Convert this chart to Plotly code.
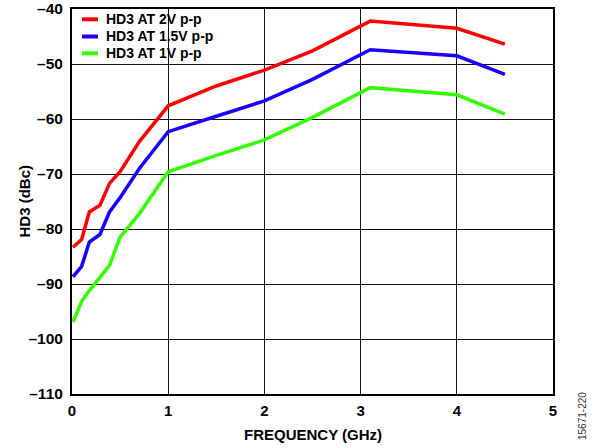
import plotly.graph_objects as go

freq = [0.01, 0.1, 0.18, 0.29, 0.39, 0.5, 0.7, 1.0, 1.5, 2.0, 2.5, 3.1, 4.0, 4.5]
hd3_2v = [-83.3, -81.9, -76.9, -75.7, -71.7, -69.6, -64.1, -57.6, -54.0, -51.1, -47.6, -42.2, -43.5, -46.4]
hd3_15v = [-88.7, -86.8, -82.4, -81.0, -76.9, -74.3, -69.0, -62.3, -59.5, -56.7, -52.8, -47.4, -48.5, -51.9]
hd3_1v = [-96.9, -93.2, -91.2, -88.8, -86.6, -81.5, -77.2, -69.6, -66.6, -63.8, -59.7, -54.3, -55.6, -59.1]

series_names = ["HD3 AT 2V p-p", "HD3 AT 1.5V p-p", "HD3 AT 1V p-p"]
series_colors = ["#ff0000", "#1a00ff", "#33ff00"]

x_ticks = [0, 1, 2, 3, 4, 5]
y_ticks = [-110, -100, -90, -80, -70, -60, -50, -40]
y_tick_labels = ["–110", "–100", "–90", "–80", "–70", "–60", "–50", "–40"]

x_title = "FREQUENCY (GHz)"
y_title = "HD3 (dBc)"
fig_code = "15671-220"

font_family = "Liberation Sans, Arial, sans-serif"

W, H = 595, 448
ML, MT = 72, 9
MR = W - 553
MB = H - 394
PW, PH = W - ML - MR, H - MT - MB


def px_x(p):
    return (p - ML) / PW


def px_y(p):
    return (H - MB - p) / PH


fig = go.Figure()
for name, vals, col in zip(series_names, [hd3_2v, hd3_15v, hd3_1v], series_colors):
    fig.add_trace(go.Scatter(x=freq, y=vals, mode="lines", name=name,
                             line=dict(color=col, width=3.5)))

fig.update_layout(
    width=W, height=H,
    margin=dict(l=ML, r=MR, t=MT, b=MB),
    paper_bgcolor="white", plot_bgcolor="white",
    font=dict(family=font_family, size=15, color="black"),
    showlegend=False,
    xaxis=dict(range=[0, 5], tickvals=x_ticks, showgrid=True, gridcolor="#111111", gridwidth=1.2,
               showline=True, linecolor="black", linewidth=2, mirror=True, zeroline=False,
               ticks="", automargin=False, ticklabelstandoff=2, ticklabeloverflow="allow",
               tickfont=dict(family=font_family, size=15, weight="bold")),
    yaxis=dict(range=[-110, -40], tickvals=y_ticks, ticktext=y_tick_labels, showgrid=True,
               gridcolor="#111111", gridwidth=1.2, showline=True, linecolor="black", linewidth=2,
               mirror=True, zeroline=False, ticks="", automargin=False, ticklabelstandoff=4,
               ticklabeloverflow="allow",
               tickfont=dict(family=font_family, size=15.5, weight="bold")),
)

# white legend box covering the grid (drawn between grid and traces)
fig.add_shape(type="rect", xref="paper", yref="paper", layer="between",
              x0=0, x1=px_x(236), y0=px_y(63.2), y1=1,
              fillcolor="white", line=dict(width=0))

# legend entries
row_y = [19.3, 36.5, 53.3]
for name, col, ry in zip(series_names, series_colors, row_y):
    fig.add_shape(type="line", xref="paper", yref="paper",
                  x0=px_x(82), x1=px_x(98), y0=px_y(ry), y1=px_y(ry),
                  line=dict(color=col, width=4))
    fig.add_annotation(text=name, xref="paper", yref="paper", x=px_x(104), y=px_y(ry),
                       xanchor="left", yanchor="middle", showarrow=False,
                       font=dict(family=font_family, size=14, weight="bold", color="black"))

fig.add_annotation(text=x_title, xref="paper", yref="paper", x=0.5, y=px_y(434),
                   xanchor="center", yanchor="middle", showarrow=False,
                   font=dict(family=font_family, size=15, weight="bold"))
fig.add_annotation(text=y_title, xref="paper", yref="paper", x=px_x(24), y=px_y(201.5),
                   xanchor="center", yanchor="middle", showarrow=False, textangle=-90,
                   font=dict(family=font_family, size=15, weight="bold"))
fig.add_annotation(text=fig_code, xref="paper", yref="paper", x=px_x(582), y=px_y(416),
                   xanchor="center", yanchor="middle", textangle=-90, showarrow=False,
                   font=dict(family=font_family, size=10, color="#333333"))

fig.write_html("out.html", config={"displayModeBar": False},
               post_script="document.body.style.margin='0px';")
